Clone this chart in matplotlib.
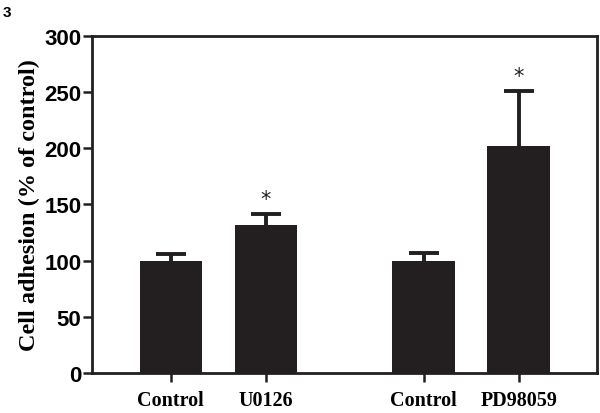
import numpy as np
import matplotlib
matplotlib.use('Agg')
import matplotlib.pyplot as plt

# data
labels = ['Control', 'U0126', 'Control', 'PD98059']
means = [100, 132, 100, 202]
errs = [6, 9.5, 7, 49]
signif = ['', '*', '', '*']

# layout: two groups of two bars
xpos = [0, 1, 2.66, 3.66]

fig = plt.figure(figsize=(6, 4.14), dpi=100)
ax = fig.add_axes([0.153, 0.097, 0.842, 0.814])

ax.bar(xpos, means, width=0.66, color='#231f20', zorder=2)
eb = ax.errorbar(xpos, means, yerr=[np.zeros(len(errs)), errs], fmt='none',
                 ecolor='#231f20', elinewidth=2.8, capsize=11, capthick=2.8, zorder=1)
# only the upper cap is shown
eb[1][0].set_visible(False)

for x, m, e, s in zip(xpos, means, errs, signif):
    if s:
        ax.text(x, m + e + 4, s, ha='center', va='bottom', fontsize=15,
                family='DejaVu Sans', color='#231f20')

ax.set_xlim(-0.832, 4.484)
ax.set_ylim(0, 300)
ax.set_yticks(np.arange(0, 301, 50))
ax.set_xticks(xpos)
ax.set_xticklabels(labels, family='Liberation Serif', fontweight='bold', fontsize=14.5)
for t in ax.get_yticklabels():
    t.set_family('Liberation Sans')
    t.set_fontweight('bold')
    t.set_fontsize(16)

ax.tick_params(axis='y', length=6.5, width=1.8, pad=1, color='#231f20')
ax.tick_params(axis='x', length=6.5, width=1.8, pad=6, color='#231f20')
for sp in ax.spines.values():
    sp.set_linewidth(2)
    sp.set_color('#231f20')

ax.set_ylabel('Cell adhesion (% of control)', family='Liberation Serif',
              fontweight='bold', fontsize=17.5, labelpad=3)

fig.text(0.004, 0.985, '3', fontsize=11, fontweight='bold', family='Liberation Sans',
         ha='left', va='top')

fig.savefig('out.png', dpi=100)
